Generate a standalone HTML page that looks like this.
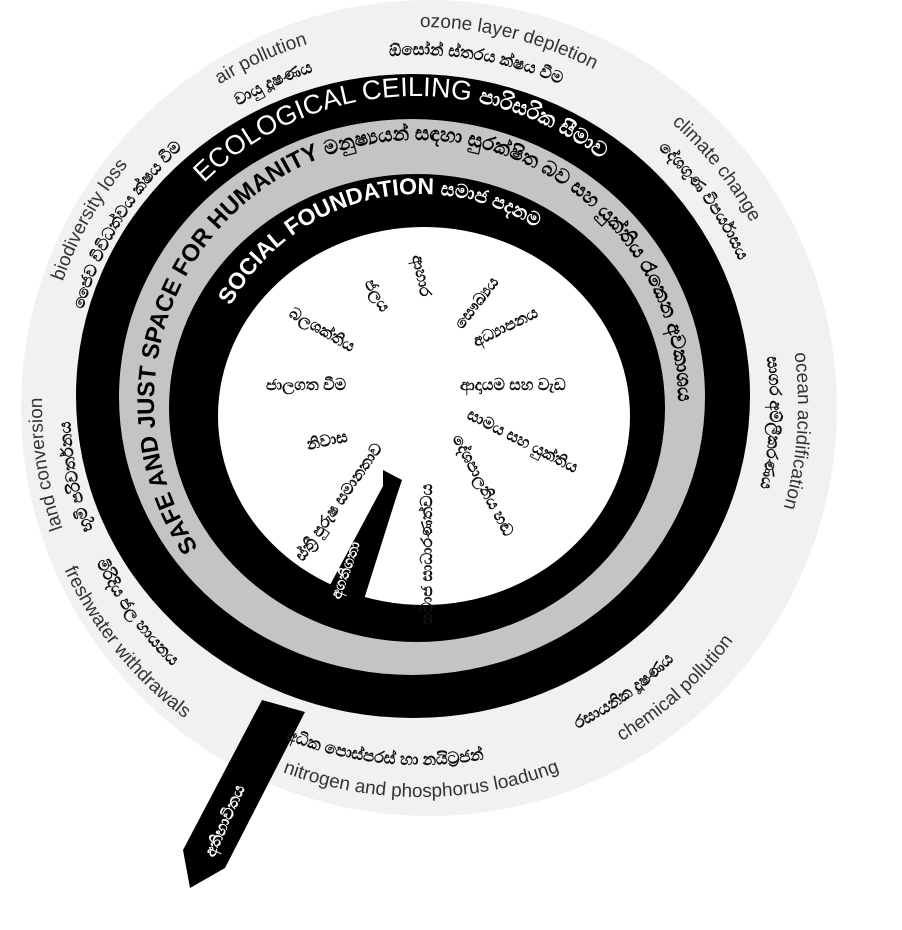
<!DOCTYPE html>
<html><head><meta charset="utf-8"><style>
html,body{margin:0;padding:0;background:#fff;}
svg{display:block;}
text{font-family:"Liberation Sans","DejaVu Sans",sans-serif;}
.en{font-size:19px;fill:#333;}
.si{font-size:16.5px;font-weight:bold;fill:#111;}
.in{font-size:16px;font-weight:bold;fill:#111;}
</style></head><body>
<svg width="902" height="930" viewBox="0 0 902 930" xmlns="http://www.w3.org/2000/svg">
<defs>
<path id="cw378" d="M420,783 A378,378 0 1 1 420,27 A378,378 0 1 1 420,783"/>
<path id="cw350" d="M420,755 A350,350 0 1 1 420,55 A350,350 0 1 1 420,755"/>
<path id="cw302" d="M416,700 A302,302 0 1 1 416,96 A302,302 0 1 1 416,700"/>
<path id="cw262" d="M416,664 A262,262 0 1 1 416,140 A262,262 0 1 1 416,664"/>
<path id="cw216" d="M420,626 A216,216 0 1 1 420,194 A216,216 0 1 1 420,626"/>
<path id="ccw392" d="M420,13 A392,392 0 1 0 420,797 A392,392 0 1 0 420,13"/>
<path id="ccw360" d="M420,45 A360,360 0 1 0 420,765 A360,360 0 1 0 420,45"/>
</defs>
<circle cx="429" cy="408" r="408" fill="#f1f1f1"/>
<ellipse cx="413" cy="396" rx="337" ry="322" fill="#000"/>
<ellipse cx="412" cy="397" rx="293" ry="278" fill="#c4c4c4"/>
<ellipse cx="417" cy="408" rx="248" ry="234" fill="#000"/>
<ellipse cx="424" cy="416" rx="206" ry="189" fill="#fff"/>
<!-- big arrow -->
<polygon points="262,700 305,712 225,868 190,888 183,850" fill="#000"/>
<text transform="translate(214,858) rotate(-66)" font-size="16" font-weight="bold" fill="#fff">අතිභාවිතය</text>
<!-- small arrow -->
<polygon points="322,600 360,612 396,498 402,480 383,470 383,486" fill="#000"/>
<text transform="translate(340,600) rotate(-70)" font-size="15" font-weight="bold" fill="#fff">අගතිගතා</text>

<text font-size="27" fill="#fff"><textPath href="#cw302" startOffset="37.6%">ECOLOGICAL CEILING  <tspan font-weight="bold" font-size="21">පාරිසරික සීමාව</tspan></textPath></text>
<text font-size="24" font-weight="bold" fill="#000"><textPath href="#cw262" startOffset="15.6%">SAFE AND JUST SPACE FOR HUMANITY  <tspan font-size="20">මනුෂ්‍යයන් සඳහා සුරක්ෂිත බව සහ යුක්තිය රැකෙන අවකාශය</tspan></textPath></text>
<text font-size="23" font-weight="bold" fill="#fff"><textPath href="#cw216" startOffset="33%">SOCIAL FOUNDATION  <tspan font-size="19">සමාජ පදනම</tspan></textPath></text>

<text class="en"><textPath href="#cw378" startOffset="19.7%">land conversion</textPath></text>
<text class="en"><textPath href="#cw378" startOffset="30.3%">biodiversity loss</textPath></text>
<text class="en"><textPath href="#cw378" startOffset="41.1%">air pollution</textPath></text>
<text class="en"><textPath href="#cw378" startOffset="50%">ozone layer depletion</textPath></text>
<text class="en"><textPath href="#cw378" startOffset="61.6%">climate change</textPath></text>
<text class="en"><textPath href="#cw378" startOffset="72.8%">ocean acidification</textPath></text>
<text class="en"><textPath href="#ccw392" startOffset="31.9%">freshwater withdrawals</textPath></text>
<text class="en"><textPath href="#ccw392" startOffset="44.3%">nitrogen and phosphorus loadung</textPath></text>
<text class="en"><textPath href="#ccw392" startOffset="58.6%">chemical pollution</textPath></text>

<text class="si"><textPath href="#cw350" startOffset="19.2%">භූමි පරිවර්තනය</textPath></text>
<text class="si"><textPath href="#cw350" startOffset="29.4%">ජෛව විවිධත්වය ක්ෂය වීම</textPath></text>
<text class="si"><textPath href="#cw350" startOffset="41.3%">වායු දූෂණය</textPath></text>
<text class="si"><textPath href="#cw350" startOffset="48.6%">ඕසෝන් ස්තරය ක්ෂය වීම</textPath></text>
<text class="si"><textPath href="#cw350" startOffset="61.9%">දේශගුණ විපර්යාසය</textPath></text>
<text class="si"><textPath href="#cw350" startOffset="72.8%">සාගර අම්ලීකරණය</textPath></text>
<text class="si"><textPath href="#ccw360" startOffset="32.2%">මිරිදිය ජල හායනය</textPath></text>
<text class="si"><textPath href="#ccw360" startOffset="43.9%">අධික පොස්පරස් හා නයිට්‍රජන්</textPath></text>
<text class="si"><textPath href="#ccw360" startOffset="57.2%">රසායනික දූෂණය</textPath></text>

<text class="in" transform="translate(412,256) rotate(78)">ආහාර</text>
<text class="in" transform="translate(364,283) rotate(60)">ජලය</text>
<text class="in" transform="translate(462,330) rotate(-52)">සෞඛ්‍යය</text>
<text class="in" transform="translate(288,316) rotate(30)">බලශක්තිය</text>
<text class="in" transform="translate(476,347) rotate(-26)">අධ්‍යාපනය</text>
<text class="in" transform="translate(266,390)">ජාලගත වීම</text>
<text class="in" transform="translate(460,390)">ආදායම සහ වැඩ</text>
<text class="in" transform="translate(308,450) rotate(-12)">නිවාස</text>
<text class="in" transform="translate(466,418) rotate(27)">සාමය සහ යුක්තිය</text>
<text class="in" transform="translate(303,562) rotate(-55)">ස්ත්‍රී පුරුෂ සමානතාව</text>
<text class="in" transform="translate(432,625) rotate(-90)">සමාජ සාධාරණත්වය</text>
<text class="in" transform="translate(452,438) rotate(62)">දේශපාලනිය හඬ</text>
</svg>
</body></html>
